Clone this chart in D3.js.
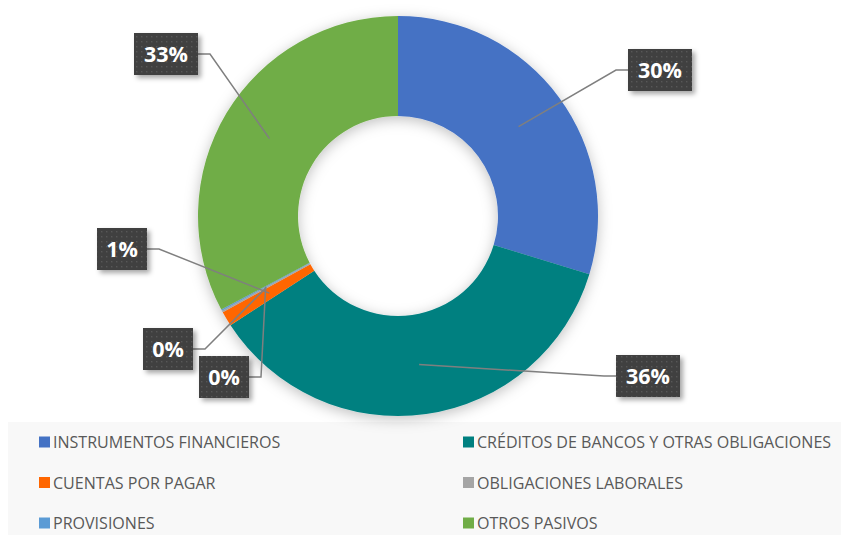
<!DOCTYPE html>
<html>
<head>
<meta charset="utf-8">
<script src="https://cdn.jsdelivr.net/npm/d3@7"></script>
<style>
  body { margin: 0; background: #fff; }
  svg { display: block; font-family: "Open Sans", sans-serif; }
</style>
</head>
<body>
<div id="chart"></div>
<script>
// data
const categories = ["INSTRUMENTOS FINANCIEROS", "CRÉDITOS DE BANCOS Y OTRAS OBLIGACIONES",
  "CUENTAS POR PAGAR", "OBLIGACIONES LABORALES", "PROVISIONES", "OTROS PASIVOS"];
const values = [29.7, 36.1, 1.2, 0.15, 0.1, 32.75];
const colors = ["#4472C4", "#008080", "#FF6600", "#A5A5A5", "#5B9BD5", "#70AD47"];

// where each label box sits (box centre)
const labelBoxes = [[660, 70], [648, 376], [122, 249], [168, 349], [224, 377], [166, 54]];

const width = 841, height = 535;
const cx = 398, cy = 216, outerR = 200, innerR = 100;

const svg = d3.select("#chart").append("svg")
  .attr("width", width)
  .attr("height", height);

const defs = svg.append("defs");
const shadow = defs.append("filter").attr("id", "shadow")
  .attr("x", "-30%").attr("y", "-30%").attr("width", "160%").attr("height", "160%");
shadow.append("feDropShadow").attr("dx", 0).attr("dy", 3).attr("stdDeviation", 7)
  .attr("flood-color", "#000").attr("flood-opacity", 0.25);

const boxShadow = defs.append("filter").attr("id", "boxShadow")
  .attr("x", "-30%").attr("y", "-30%").attr("width", "170%").attr("height", "170%");
boxShadow.append("feDropShadow").attr("dx", 3).attr("dy", 3).attr("stdDeviation", 2.5)
  .attr("flood-color", "#000").attr("flood-opacity", 0.35);

const dots = defs.append("pattern").attr("id", "dots")
  .attr("patternUnits", "userSpaceOnUse").attr("width", 5).attr("height", 5);
dots.append("rect").attr("width", 5).attr("height", 5).attr("fill", "#404040");
dots.append("rect").attr("x", 1).attr("y", 1).attr("width", 1.4).attr("height", 1.4).attr("fill", "#595959");

// legend background
svg.append("rect")
  .attr("x", 8).attr("y", 422)
  .attr("width", width - 8).attr("height", height - 422)
  .attr("fill", "#F8F8F8");

const pie = d3.pie().sort(null).value(d => d);
const arcs = pie(values);
const total = d3.sum(values);

const arc = d3.arc().innerRadius(innerR).outerRadius(outerR);

const g = svg.append("g").attr("transform", `translate(${cx},${cy})`);

g.append("g").attr("filter", "url(#shadow)")
  .selectAll("path")
  .data(arcs)
  .enter()
  .append("path")
    .attr("d", arc)
    .attr("fill", (d, i) => colors[i]);

// leader lines and labels
const labels = svg.append("g");
arcs.forEach(function(d, i) {
  const c = arc.centroid(d);
  const ax = cx + c[0], ay = cy + c[1];
  const text = Math.round(d.value / total * 100) + "%";
  const bw = text.length > 2 ? 64 : 50, bh = 42;
  const [bx, by] = labelBoxes[i];
  const left = bx < ax;
  const edge = left ? bx + bw / 2 : bx - bw / 2;
  const elbow = left ? edge + 12 : edge - 12;

  labels.append("polyline")
    .attr("points", `${ax},${ay} ${elbow},${by} ${edge},${by}`)
    .attr("fill", "none")
    .attr("stroke", "#7F7F7F")
    .attr("stroke-width", 1.5);

  labels.append("rect")
    .attr("x", bx - bw / 2).attr("y", by - bh / 2)
    .attr("width", bw).attr("height", bh)
    .attr("fill", "url(#dots)")
    .attr("filter", "url(#boxShadow)");

  labels.append("text")
    .attr("x", bx).attr("y", by)
    .attr("dy", "0.36em")
    .attr("text-anchor", "middle")
    .attr("fill", "#fff")
    .attr("font-weight", "bold")
    .attr("font-size", 21.5)
    .text(text);
});

// legend
const legend = svg.append("g");
const legendTexts = [];
categories.forEach(function(name, i) {
  const col = i % 2, row = Math.floor(i / 2);
  const x = col === 0 ? 39 : 463;
  const y = 442 + row * 40.5;
  legend.append("rect")
    .attr("x", x).attr("y", y - 5.5)
    .attr("width", 11).attr("height", 11)
    .attr("fill", colors[i]);
  const t = legend.append("text")
    .attr("transform", `translate(${x + 14},${y})`)
    .attr("dy", "0.36em")
    .attr("fill", "#595959")
    .attr("font-size", 16.8)
    .text(name);
  legendTexts.push([t, x + 14, y]);
});
// the reference font is narrower: squeeze so the longest entry spans ~354px
const longest = d3.max(legendTexts, d => d[0].node().getComputedTextLength());
const squeeze = Math.min(1, 354 / longest);
legendTexts.forEach(function([t, x, y]) {
  t.attr("transform", `translate(${x},${y}) scale(${squeeze},1)`);
});
</script>
</body>
</html>
